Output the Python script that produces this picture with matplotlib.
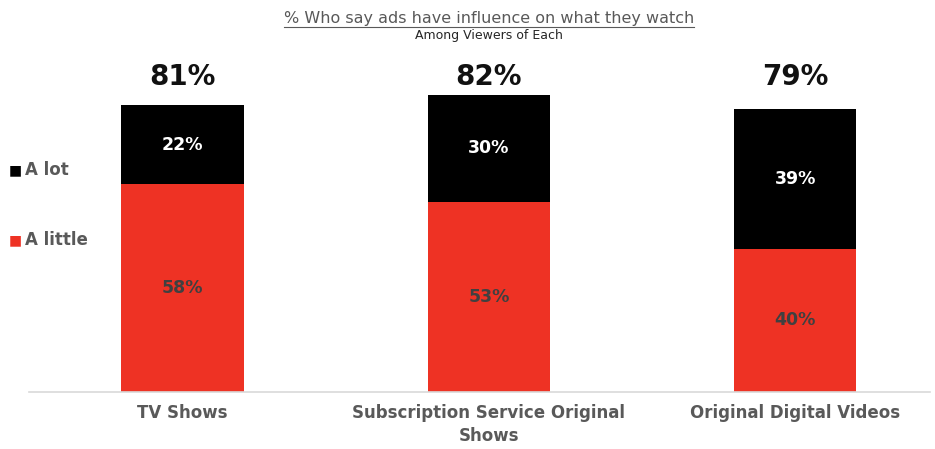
import matplotlib
matplotlib.use("Agg")
import matplotlib.pyplot as plt
from matplotlib.lines import Line2D

plt.rcParams['font.family'] = ['DejaVu Sans']

categories = ["TV Shows", "Subscription Service Original\nShows", "Original Digital Videos"]
a_little = [58, 53, 40]
a_lot = [22, 30, 39]
totals = [81, 82, 79]

RED = "#EE3224"
BLACK = "#000000"
GRAY = "#595959"

fig = plt.figure(figsize=(9.35, 4.49), dpi=100)
ax = fig.add_axes([29 / 935, 57 / 449, 901 / 935, 332 / 449])

x = list(range(len(categories)))
width = 0.4
ax.bar(x, a_little, width, color=RED, label="A little")
ax.bar(x, a_lot, width, bottom=a_little, color=BLACK, label="A lot")

for i in x:
    ax.text(i, a_little[i] / 2, f"{a_little[i]}%", ha="center", va="center",
            fontsize=12.5, fontweight="bold", color="#404040")
    ax.text(i, a_little[i] + a_lot[i] / 2, f"{a_lot[i]}%", ha="center", va="center",
            fontsize=12.5, fontweight="bold", color="white")
    # totals sit on a common row above the bars
    ax.text(i, 88, f"{totals[i]}%", ha="center", va="center",
            fontsize=20, fontweight="bold", color="#111111")

ax.set_xlim(-0.502, 2.44)
ax.set_ylim(0, 92.7)
ax.set_xticks(x)
ax.set_xticklabels(categories, fontsize=12, fontweight="bold", color=GRAY, linespacing=1.3)
ax.tick_params(axis="x", length=0, pad=9)
ax.set_yticks([])
for side in ("top", "left", "right"):
    ax.spines[side].set_visible(False)
ax.spines["bottom"].set_color("#D9D9D9")
ax.spines["bottom"].set_linewidth(1.2)

# legend entries drawn at the left edge
for label, color, ypx in (("A lot", BLACK, 170), ("A little", RED, 240)):
    fy = 1 - ypx / 449
    fig.text(9 / 935, fy, "\u25A0", fontsize=10, color=color, va="center", ha="left")
    fig.text(25 / 935, fy, label, fontsize=12, fontweight="bold", color=GRAY,
             va="center", ha="left")

title = fig.text(489 / 935, 1 - 19 / 449, "% Who say ads have influence on what they watch",
                 fontsize=11.5, color=GRAY, ha="center", va="center")
fig.text(489 / 935, 1 - 35 / 449, "Among Viewers of Each", fontsize=9,
         color="#262626", ha="center", va="center")

# underline the title
fig.canvas.draw()
bb = title.get_window_extent(renderer=fig.canvas.get_renderer())
uy = bb.y0 - 0.5
fig.add_artist(Line2D([bb.x0 / 935, bb.x1 / 935], [uy / 449, uy / 449],
                      color=GRAY, linewidth=0.8, transform=fig.transFigure))

fig.savefig("out.png", dpi=100, facecolor="white")
